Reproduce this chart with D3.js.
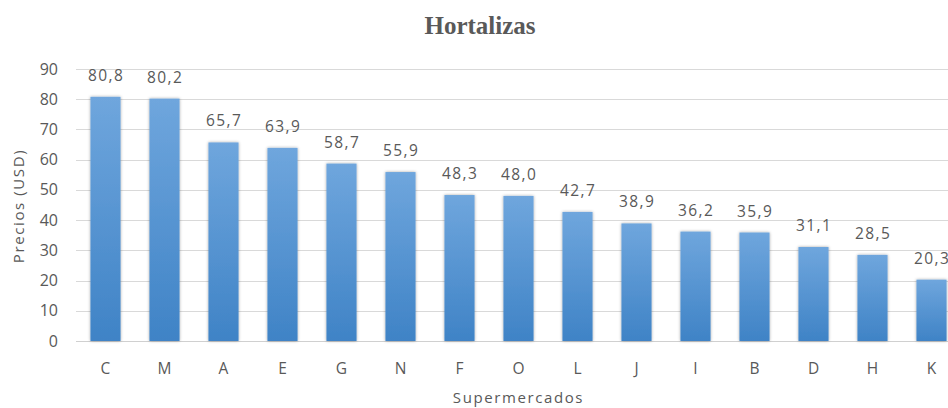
<!DOCTYPE html>
<html>
<head>
<meta charset="utf-8">
<script src="https://cdn.jsdelivr.net/npm/d3@7"></script>
<style>
  body { margin: 0; background: #fff; }
  svg text { font-family: "Open Sans", "DejaVu Sans", sans-serif; fill: #595959; }
</style>
</head>
<body>
<div id="chart"></div>
<script>
var supermercados = ["C","M","A","E","G","N","F","O","L","J","I","B","D","H","K"];
var precios = [80.8, 80.2, 65.7, 63.9, 58.7, 55.9, 48.3, 48.0, 42.7, 38.9, 36.2, 35.9, 31.1, 28.5, 20.3];
var yTicks = [0, 10, 20, 30, 40, 50, 60, 70, 80, 90];

var width = 948, height = 408;
var margin = {top: 69, right: -13, bottom: 67, left: 76};

var svg = d3.select("#chart").append("svg")
  .attr("width", width)
  .attr("height", height);

var defs = svg.append("defs");
var grad = defs.append("linearGradient")
  .attr("id", "barGrad")
  .attr("x1", 0).attr("y1", 0).attr("x2", 0).attr("y2", 1);
grad.append("stop").attr("offset", "0%").attr("stop-color", "#6fa6dd");
grad.append("stop").attr("offset", "100%").attr("stop-color", "#3f83c6");

var shadow = defs.append("filter").attr("id", "shadow")
  .attr("x", "-20%").attr("y", "-5%").attr("width", "140%").attr("height", "110%");
shadow.append("feDropShadow")
  .attr("dx", 0).attr("dy", 0).attr("stdDeviation", 1.5)
  .attr("flood-color", "#000").attr("flood-opacity", 0.35);

var x = d3.scaleBand()
  .domain(supermercados)
  .range([margin.left, width - margin.right])
  .paddingInner(0.49)
  .paddingOuter(0.245);

var y = d3.scaleLinear()
  .domain([0, 90])
  .range([height - margin.bottom, margin.top]);

// gridlines
svg.append("g")
  .selectAll("line")
  .data(yTicks)
  .enter()
  .append("line")
  .attr("x1", margin.left)
  .attr("x2", width - margin.right)
  .attr("y1", function(d){ return Math.round(y(d)) + 0.5 })
  .attr("y2", function(d){ return Math.round(y(d)) + 0.5 })
  .attr("stroke", function(d){ return d == 0 ? "#d0d0d0" : "#d9d9d9" })
  .attr("stroke-width", 1);

// y tick labels
svg.append("g")
  .selectAll("text")
  .data(yTicks)
  .enter()
  .append("text")
  .attr("x", 58)
  .attr("y", function(d){ return y(d) })
  .attr("dy", "0.35em")
  .attr("text-anchor", "end")
  .style("font-size", "16px")
  .text(function(d){ return d });

// bars
svg.append("g")
  .selectAll("rect")
  .data(precios)
  .enter()
  .append("rect")
  .attr("x", function(d, i){ return x(supermercados[i]) })
  .attr("y", function(d){ return y(d) })
  .attr("width", x.bandwidth())
  .attr("height", function(d){ return y(0) - y(d) })
  .attr("fill", "url(#barGrad)")
  .attr("filter", "url(#shadow)");

// value labels
svg.append("g")
  .selectAll("text")
  .data(precios)
  .enter()
  .append("text")
  .attr("x", function(d, i){ return x(supermercados[i]) + x.bandwidth() / 2 + 0.7 })
  .attr("y", function(d){ return y(d) - 16 })
  .attr("text-anchor", "middle")
  .style("font-size", "15.5px")
  .style("letter-spacing", "1.4px")
  .text(function(d){ return d.toFixed(1).replace(".", ",") });

// x labels
svg.append("g")
  .selectAll("text")
  .data(supermercados)
  .enter()
  .append("text")
  .attr("x", function(d){ return x(d) + x.bandwidth() / 2 })
  .attr("y", 374)
  .attr("text-anchor", "middle")
  .style("font-size", "15.5px")
  .text(function(d){ return d });

// axis titles
svg.append("text")
  .attr("x", (margin.left + width - margin.right) / 2)
  .attr("y", 403)
  .attr("text-anchor", "middle")
  .style("font-size", "15px")
  .style("letter-spacing", "1.6px")
  .text("Supermercados");

svg.append("text")
  .attr("transform", "translate(24," + 206 + ") rotate(-90)")
  .attr("text-anchor", "middle")
  .style("font-size", "15px")
  .style("letter-spacing", "1.6px")
  .text("Precios (USD)");

// title
svg.append("text")
  .attr("x", 480)
  .attr("y", 34)
  .attr("text-anchor", "middle")
  .style("font-family", "'Liberation Serif', 'DejaVu Serif', serif")
  .style("font-weight", "bold")
  .style("font-size", "25px")
  .text("Hortalizas");
</script>
</body>
</html>
